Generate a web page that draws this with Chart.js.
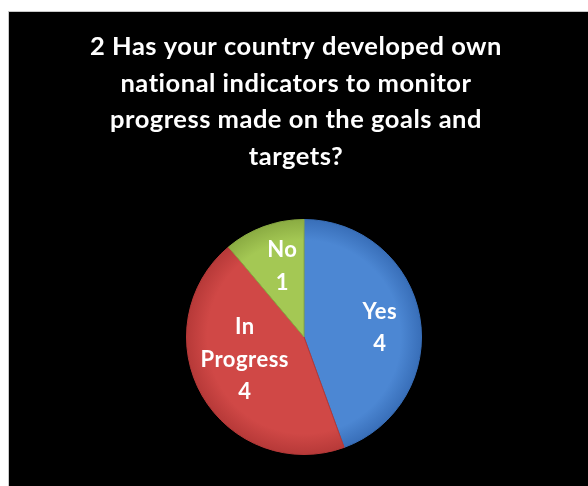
<!DOCTYPE html>
<html>
<head>
<meta charset="utf-8">
<script src="https://cdn.jsdelivr.net/npm/chart.js@4"></script>
<style>
  html, body { margin: 0; padding: 0; background: #ffffff; }
  #wrap { width: 588px; height: 486px; position: relative; }
</style>
</head>
<body>
<div id="wrap"><canvas id="c" width="588" height="486"></canvas></div>
<script>
// ---- data ----
const titleLines = [
  "2 Has your country developed own",
  "national indicators to monitor",
  "progress made on the goals and",
  "targets?"
];
const categories = ["Yes", "In Progress", "No"];
const labelLines = [["Yes"], ["In", "Progress"], ["No"]];
const values = [4, 4, 1];

// ---- styles ----
const innerColors = ["#4c87d3", "#d04846", "#a4c854"];
const outerColors = ["#386eb8", "#b63938", "#8aab42"];
const labelPlacement = [{ r: 0.65, a: 3 }, { r: 0.54, a: 9 }, { r: 0.63, a: 3 }];

const panelPlugin = {
  id: 'panel',
  beforeDraw(chart) {
    const ctx = chart.ctx;
    ctx.save();
    ctx.fillStyle = '#ffffff';
    ctx.fillRect(0, 0, chart.width, chart.height);
    ctx.fillStyle = '#c8c8c8';
    ctx.fillRect(8, 11, chart.width - 8, 1);
    ctx.fillRect(8, 11, 1, chart.height - 11);
    ctx.fillStyle = '#000000';
    ctx.fillRect(9, 12, chart.width - 9, chart.height - 12);
    ctx.restore();
  }
};

const titlePlugin = {
  id: 'slideTitle',
  afterDraw(chart) {
    const ctx = chart.ctx;
    ctx.save();
    ctx.fillStyle = '#ffffff';
    ctx.font = 'bold 25.5px Lato';
    if ('letterSpacing' in ctx) ctx.letterSpacing = '0.5px';
    ctx.textAlign = 'center';
    ctx.textBaseline = 'alphabetic';
    titleLines.forEach((t, i) => {
      ctx.fillText(t, 296, 55 + i * 36.7);
    });
    ctx.restore();
  }
};

const labelPlugin = {
  id: 'sliceLabels',
  afterDatasetsDraw(chart) {
    const ctx = chart.ctx;
    const meta = chart.getDatasetMeta(0);
    ctx.save();
    ctx.fillStyle = '#ffffff';
    ctx.font = 'bold 22px Lato';
    if ('letterSpacing' in ctx) ctx.letterSpacing = '0.5px';
    ctx.textAlign = 'center';
    ctx.textBaseline = 'middle';
    meta.data.forEach((arc, i) => {
      const p = arc.getProps(['x', 'y', 'startAngle', 'endAngle', 'outerRadius'], true);
      const pl = labelPlacement[i];
      const mid = (p.startAngle + p.endAngle) / 2 + pl.a * Math.PI / 180;
      const r = p.outerRadius * pl.r;
      const cx = p.x + Math.cos(mid) * r;
      const cy = p.y + Math.sin(mid) * r;
      const lines = labelLines[i].concat([String(values[i])]);
      const lh = 32.5;
      const top = cy - (lines.length - 1) * lh / 2;
      lines.forEach((t, j) => ctx.fillText(t, cx, top + j * lh));
    });
    ctx.restore();
  }
};

function sliceFill(context) {
  const chart = context.chart;
  const area = chart.chartArea;
  if (!area) return innerColors[context.dataIndex];
  const cx = (area.left + area.right) / 2;
  const cy = (area.top + area.bottom) / 2;
  const r = Math.min(area.right - area.left, area.bottom - area.top) / 2;
  const g = chart.ctx.createRadialGradient(cx, cy, 0, cx, cy, r);
  g.addColorStop(0, innerColors[context.dataIndex]);
  g.addColorStop(0.82, innerColors[context.dataIndex]);
  g.addColorStop(1, outerColors[context.dataIndex]);
  return g;
}

new Chart(document.getElementById('c'), {
  type: 'pie',
  data: {
    labels: categories,
    datasets: [{
      data: values,
      backgroundColor: sliceFill,
      borderColor: outerColors,
      borderWidth: 1
    }]
  },
  options: {
    responsive: false,
    animation: false,
    layout: { padding: { left: 186, right: 166, top: 219, bottom: 31 } },
    plugins: {
      legend: { display: false },
      tooltip: { enabled: false },
      title: { display: false }
    }
  },
  plugins: [panelPlugin, titlePlugin, labelPlugin]
});
</script>
</body>
</html>
